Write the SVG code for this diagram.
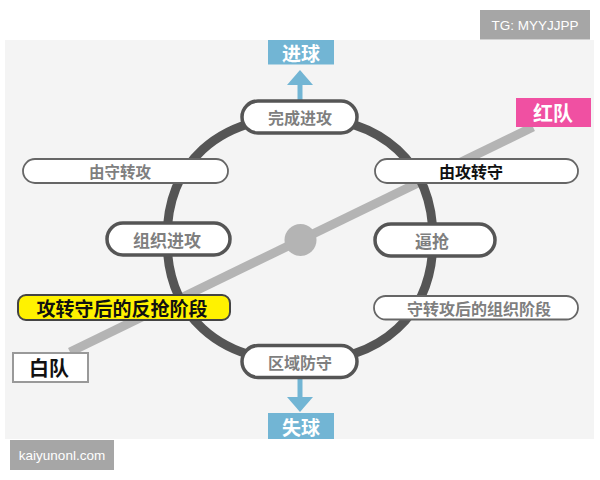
<svg xmlns="http://www.w3.org/2000/svg" width="600" height="480" viewBox="0 0 600 480">
<defs>
<style>
.cjk{font-family:"Noto Sans CJK SC","Noto Sans",sans-serif;dominant-baseline:central;text-anchor:middle;font-weight:700}
.lat{font-family:"Liberation Sans",Arial,sans-serif;text-anchor:middle;fill:#ffffff;font-size:13.5px}
.thick{fill:#ffffff;stroke:#555555;stroke-width:3.5}
.thin{fill:#ffffff;stroke:#666666;stroke-width:1.8}
.gtxt{fill:#7f7f7f}
.blue{fill:#72b5d4}
</style>
</defs>
<rect x="0" y="0" width="600" height="480" fill="#ffffff"/>
<rect x="5" y="40" width="589" height="399" fill="#f4f4f4"/>
<g id="watermark-tg">
<rect x="480" y="10" width="110" height="29.5" fill="#a6a6a6"/>
<text class="lat" x="535" y="29.5">TG: MYYJJPP</text>
</g>
<g id="watermark-site">
<rect x="10" y="440" width="104" height="30" fill="#a6a6a6"/>
<text class="lat" x="62" y="459.5">kaiyunonl.com</text>
</g>
<g id="connectors">
<line x1="533" y1="127" x2="70" y2="352" stroke="#b4b4b4" stroke-width="9"/>
<path d="M300,117 C217.5,117 167,163.5 167,239 C167,314.5 217.5,361.5 300,361.5 C382.5,361.5 433,314.5 433,239 C433,163.5 382.5,117 300,117 Z" fill="none" stroke="#555555" stroke-width="9"/>
<circle cx="300.5" cy="240" r="16" fill="#b4b4b4"/>
<rect class="blue" x="297.5" y="84" width="5" height="18"/>
<polygon class="blue" points="287,85 313,85 300,70"/>
<rect class="blue" x="297.5" y="377" width="5" height="21"/>
<polygon class="blue" points="287,397 313,397 300,412"/>
</g>
<g id="goal">
<rect class="blue" x="268" y="40" width="66" height="24.5"/>
<text class="cjk" x="301" y="52" font-size="19" fill="#ffffff">进球</text>
</g>
<g id="concede">
<rect class="blue" x="268" y="413" width="66" height="26"/>
<text class="cjk" x="301" y="426" font-size="19" fill="#ffffff">失球</text>
</g>
<g id="finish-attack">
<rect class="thick" x="242" y="101" width="115" height="32" rx="16"/>
<text class="cjk gtxt" x="300" y="117" font-size="16">完成进攻</text>
</g>
<g id="zone-defense">
<rect class="thick" x="242" y="345.5" width="115" height="32" rx="16"/>
<text class="cjk gtxt" x="300" y="361.5" font-size="16">区域防守</text>
</g>
<g id="organize-attack">
<rect class="thick" x="107" y="223" width="123" height="32" rx="16"/>
<text class="cjk gtxt" x="167" y="239.5" font-size="17">组织进攻</text>
</g>
<g id="press">
<rect class="thick" x="375" y="224" width="120" height="32" rx="16"/>
<text class="cjk gtxt" x="432" y="240" font-size="17">逼抢</text>
</g>
<g id="def-to-att">
<rect class="thin" x="23" y="159" width="205" height="24" rx="12"/>
<text class="cjk gtxt" x="120" y="171" font-size="15.5">由守转攻</text>
</g>
<g id="att-to-def">
<rect class="thin" x="375" y="159" width="203" height="24" rx="12"/>
<text class="cjk" x="471" y="171" font-size="16" fill="#111111">由攻转守</text>
</g>
<g id="organize-phase">
<rect class="thin" x="374" y="296" width="204" height="23.5" rx="11.75"/>
<text class="cjk gtxt" x="479" y="307.5" font-size="16">守转攻后的组织阶段</text>
</g>
<g id="counter-press-phase">
<rect x="18" y="295" width="212" height="25" rx="8" fill="#fff200" stroke="#444444" stroke-width="2"/>
<text class="cjk" x="122" y="307.5" font-size="19" fill="#111111">攻转守后的反抢阶段</text>
</g>
<g id="red-team">
<rect x="516" y="98" width="75" height="29" fill="#f050a2"/>
<text class="cjk" x="553" y="112.5" font-size="20" fill="#ffffff">红队</text>
</g>
<g id="white-team">
<rect x="13" y="353" width="75" height="29" fill="#ffffff" stroke="#999999" stroke-width="2"/>
<text class="cjk" x="49" y="367.5" font-size="20" fill="#111111">白队</text>
</g>
</svg>
